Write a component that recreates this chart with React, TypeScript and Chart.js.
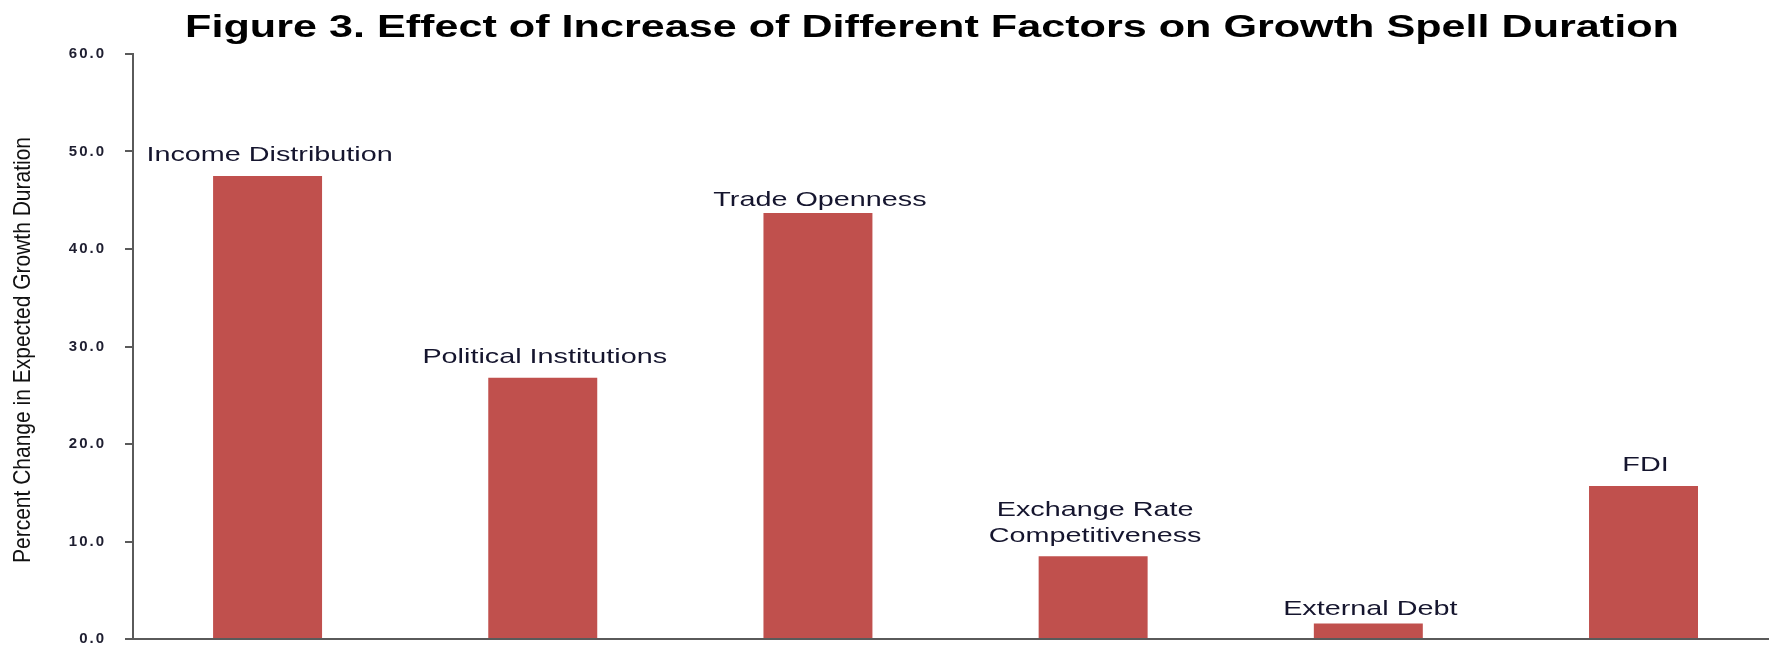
import { useEffect, useRef } from 'react';
import { Chart, registerables } from 'chart.js';

Chart.register(...registerables);

const categories: string[][] = [
  ['Income Distribution'],
  ['Political Institutions'],
  ['Trade Openness'],
  ['Exchange Rate', 'Competitiveness'],
  ['External Debt'],
  ['FDI'],
];
const values = [47.5, 26.8, 43.7, 8.5, 1.6, 15.7];
const yTickValues = [0, 10, 20, 30, 40, 50, 60];
const titleText = 'Figure 3. Effect of Increase of Different Factors on Growth Spell Duration';
const yTitleText = 'Percent Change in Expected Growth Duration';

// layout constants (not data)
const labelGaps = [21, 20, 13, 20, 14, 21];
const STRETCH = 1.37;

const overlayPlugin = {
  id: 'overlay',
  beforeDraw(chart: any) {
    (chart.ctx as any).letterSpacing = '2px';
  },
  afterDraw(chart: any) {
    const ctx = chart.ctx as any;
    const meta = chart.getDatasetMeta(0);
    ctx.save();
    ctx.letterSpacing = '0px';
    ctx.textAlign = 'center';
    ctx.textBaseline = 'middle';
    // bar labels
    ctx.font = '21px "Liberation Sans", Arial, sans-serif';
    ctx.fillStyle = '#15152e';
    meta.data.forEach((bar: any, i: number) => {
      const lines = categories[i];
      const lh = 26;
      const baseY = bar.y - labelGaps[i];
      lines.forEach((ln, j) => {
        const y = baseY - (lines.length - 1 - j) * lh;
        ctx.save();
        ctx.translate(bar.x + 2, y);
        ctx.scale(STRETCH, 1);
        ctx.fillText(ln, 0, 0);
        ctx.restore();
      });
    });
    // title
    ctx.save();
    ctx.font = 'bold 31.5px "Liberation Sans", Arial, sans-serif';
    ctx.fillStyle = '#000';
    ctx.translate(932, 28);
    ctx.scale(STRETCH, 1);
    ctx.fillText(titleText, 0, 0);
    ctx.restore();
    // y title
    ctx.save();
    ctx.translate(23, 350);
    ctx.rotate(-Math.PI / 2);
    ctx.scale(1, STRETCH * 0.85);
    ctx.font = '21px "Liberation Sans", Arial, sans-serif';
    ctx.fillStyle = '#111';
    ctx.fillText(yTitleText, 0, 0);
    ctx.restore();
    ctx.restore();
  },
};

export default function App() {
  const ref = useRef<HTMLCanvasElement | null>(null);
  useEffect(() => {
    if (!ref.current) return;
    const chart = new Chart(ref.current, {
      type: 'bar',
      data: {
        datasets: [
          {
            data: values.map((v, i) => ({ x: i, y: v })),
            backgroundColor: '#C0504D',
            borderWidth: 0,
            barPercentage: 0.396,
            categoryPercentage: 1,
          },
        ],
      },
      options: {
        animation: false,
        responsive: false,
        maintainAspectRatio: false,
        layout: { padding: { top: 54, bottom: 10, left: 0, right: 0 } },
        plugins: { legend: { display: false }, title: { display: false }, tooltip: { enabled: false } },
        scales: {
          x: {
            type: 'linear',
            offset: false,
            min: -0.489,
            max: 5.456,
            afterBuildTicks: (s: any) => {
              s.ticks = categories.map((_, i) => ({ value: i }));
            },
            ticks: { display: false },
            grid: { display: false, drawTicks: false },
            border: { display: true, color: '#5a5a5a', width: 2 },
            afterFit: (s: any) => {
              s.height = 0;
              s.paddingLeft = 0;
              s.paddingRight = 0;
            },
          },
          y: {
            min: 0,
            max: 60,
            afterBuildTicks: (s: any) => {
              s.ticks = yTickValues.map((v) => ({ value: v }));
            },
            ticks: {
              padding: 19,
              color: '#1e1e30',
              font: { family: '"Liberation Sans", Arial, sans-serif', size: 15, weight: 'bold' },
              callback: (v: any) => Number(v).toFixed(1),
            },
            grid: { drawOnChartArea: false, drawTicks: true, tickLength: 8, color: '#5a5a5a', lineWidth: 2 },
            border: { display: true, color: '#5a5a5a', width: 2 },
            afterFit: (s: any) => {
              s.width = 133;
              s.paddingTop = 0;
              s.paddingBottom = 0;
            },
          },
        },
      } as any,
      plugins: [overlayPlugin],
    });
    return () => chart.destroy();
  }, []);
  return (
    <div style={{ position: 'absolute', left: 0, top: 0, width: 1769, height: 649, background: '#fff' }}>
      <canvas ref={ref} width={1769} height={649} style={{ display: 'block' }} />
    </div>
  );
}
